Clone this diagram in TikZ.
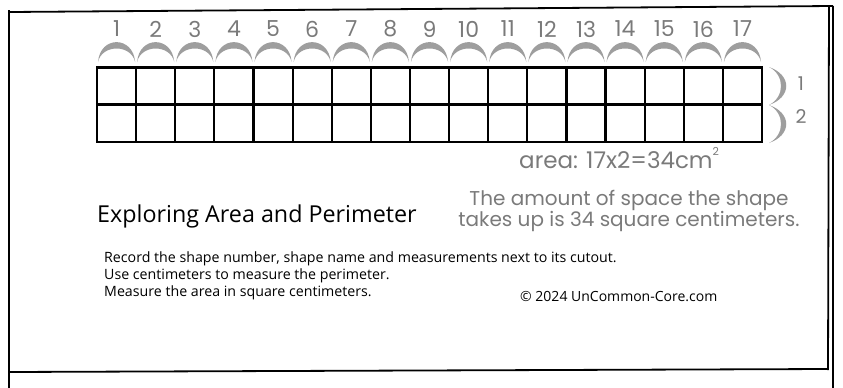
\documentclass[tikz,border=0pt]{standalone}
\usepackage{fontspec}
\setmainfont{Open Sans}
\newfontfamily\handfont{Poppins}
\definecolor{handgray}{HTML}{7A7A7A}
\definecolor{arcgray}{HTML}{9E9E9E}
\begin{document}
\begin{tikzpicture}[x=1pt,y=-1pt,
  frameline/.style={line width=1.8pt,black},
  gridline/.style={line width=2.2pt,black},
  hand/.style={font=\handfont,text=handgray,inner sep=0pt},
  plain/.style={inner sep=0pt,text=black},
  crescent/.style={fill=arcgray,draw=none}]
\useasboundingbox (0,0) rectangle (843,388);
% frame
\coordinate (tl) at (10,12);
\coordinate (tr) at (833,6);
\draw[frameline] (tl) -- (tr);
\draw[frameline] (9,10) -- (9,388);
\draw[frameline] (829,7) -- (828,370);
\draw[line width=1.6pt] (833,6) -- (833,388);
\draw[frameline] (9,372) -- (828,369);
% grid
\def\gx{97}\def\gw{39.12}
\foreach \i in {1,...,17}{
  \pgfmathsetmacro\xa{\gx+(\i-1)*\gw}
  \pgfmathsetmacro\xb{\gx+\i*\gw}
  \pgfmathsetmacro\xc{(\xa+\xb)/2}
  \fill[crescent] (\xa+1,62) .. controls (\xa+3,35.5) and (\xb-3,35.5) .. (\xb-1,62)
     .. controls (\xb-5,44) and (\xa+5,44) .. (\xa+1,62);
  \node[hand,font=\handfont\fontsize{22}{22}\selectfont] (n\i) at (\xc,29) {\i};
}
\draw[gridline] (97,67.5) rectangle (762,142);
\draw[gridline] (97,104.5) -- (762,104.5);
\foreach \i in {1,...,16}{
  \pgfmathsetmacro\xa{\gx+\i*\gw}
  \draw[gridline] (\xa,67.5) -- (\xa,142);
}
% braces
\fill[crescent] (769,67) .. controls (792,75) and (792,97) .. (769,105)
   .. controls (785,97) and (785,75) .. (769,67);
\fill[crescent] (769,105) .. controls (792,113) and (792,135) .. (769,143)
   .. controls (785,135) and (785,113) .. (769,105);
\node[hand,font=\handfont\fontsize{19}{19}\selectfont] (r1) at (801,84) {1};
\node[hand,font=\handfont\fontsize{19}{19}\selectfont] (r2) at (801,117) {2};
% area
\node[hand,font=\handfont\fontsize{23}{23}\selectfont,anchor=west] (area) at (519,158) {area: 17x2=34cm\raisebox{0.55em}{\fontsize{11}{11}\selectfont 2}};
% title
\node[plain,font=\fontsize{23.3}{23}\selectfont,anchor=west] (title) at (97,216) {Exploring Area and Perimeter};
\node[hand,font=\handfont\fontsize{20}{17.5}\selectfont,align=center] (expl) at (629,211) {The amount of space the shape\\takes up is 34 square centimeters.};
\node[plain,font=\fontsize{14.2}{17}\selectfont,anchor=north west,align=left] (instr) at (104,251.5) {Record the shape number, shape name and measurements next to its cutout.\\Use centimeters to measure the perimeter.\\Measure the area in square centimeters.};
\node[plain,font=\fontsize{14}{14}\selectfont,anchor=west] (copy) at (520,297) {© 2024 UnCommon-Core.com};
\end{tikzpicture}
\end{document}
